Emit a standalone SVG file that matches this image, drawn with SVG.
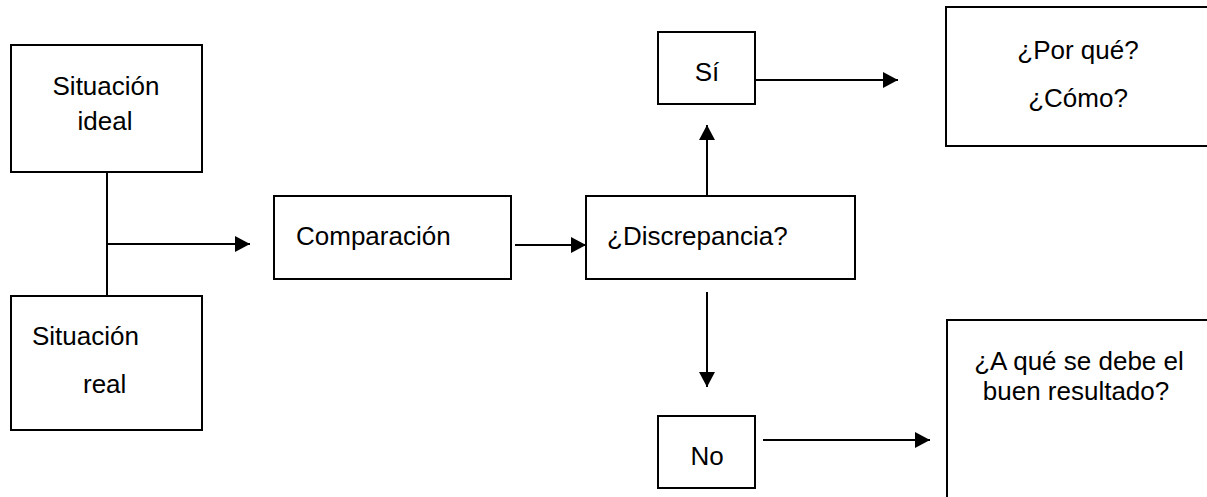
<svg xmlns="http://www.w3.org/2000/svg" width="1207" height="497" viewBox="0 0 1207 497">
<style>
.box{fill:#fff;stroke:#000;stroke-width:2}
.ln{fill:none;stroke:#000;stroke-width:2}
text{font-family:"Liberation Sans",Arial,sans-serif;font-size:26px;fill:#000}
.c{text-anchor:middle}
</style>
<defs>
<marker id="ah" viewBox="0 0 15 16" refX="15" refY="8" markerWidth="15" markerHeight="16" markerUnits="userSpaceOnUse" orient="auto">
<path d="M0,0 L15,8 L0,16 Z" fill="#000"/>
</marker>
</defs>
<g id="connectors">
<line class="ln" x1="107" y1="172" x2="107" y2="296"/>
<line class="ln" x1="107" y1="244" x2="250" y2="244" marker-end="url(#ah)"/>
<line class="ln" x1="515" y1="245" x2="586" y2="245" marker-end="url(#ah)"/>
<line class="ln" x1="707" y1="196" x2="707" y2="125" marker-end="url(#ah)"/>
<line class="ln" x1="755" y1="80" x2="898" y2="80" marker-end="url(#ah)"/>
<line class="ln" x1="707" y1="292" x2="707" y2="387" marker-end="url(#ah)"/>
<line class="ln" x1="763" y1="440" x2="930" y2="440" marker-end="url(#ah)"/>
</g>
<g id="ideal">
<rect class="box" x="11" y="45" width="191" height="127"/>
<text class="c" x="106" y="95">Situación</text>
<text class="c" x="105" y="130">ideal</text>
</g>
<g id="real">
<rect class="box" x="11" y="296" width="191" height="134"/>
<text x="32" y="345">Situación</text>
<text x="83" y="393">real</text>
</g>
<g id="comparacion">
<rect class="box" x="274" y="196" width="237" height="83"/>
<text x="296" y="245">Comparación</text>
</g>
<g id="discrepancia">
<rect class="box" x="586" y="196" width="269" height="83"/>
<text x="607" y="245">¿Discrepancia?</text>
</g>
<g id="si">
<rect class="box" x="658" y="32" width="97" height="72"/>
<text class="c" x="707" y="81">Sí</text>
</g>
<g id="porque">
<rect class="box" x="946" y="7" width="270" height="139"/>
<text class="c" x="1078" y="59">¿Por qué?</text>
<text class="c" x="1078" y="107">¿Cómo?</text>
</g>
<g id="no">
<rect class="box" x="658" y="416" width="97" height="72"/>
<text class="c" x="707" y="465">No</text>
</g>
<g id="resultado">
<rect class="box" x="947" y="320" width="270" height="190"/>
<text class="c" x="1079" y="370">¿A qué se debe el</text>
<text class="c" x="1076" y="400">buen resultado?</text>
</g>
</svg>
